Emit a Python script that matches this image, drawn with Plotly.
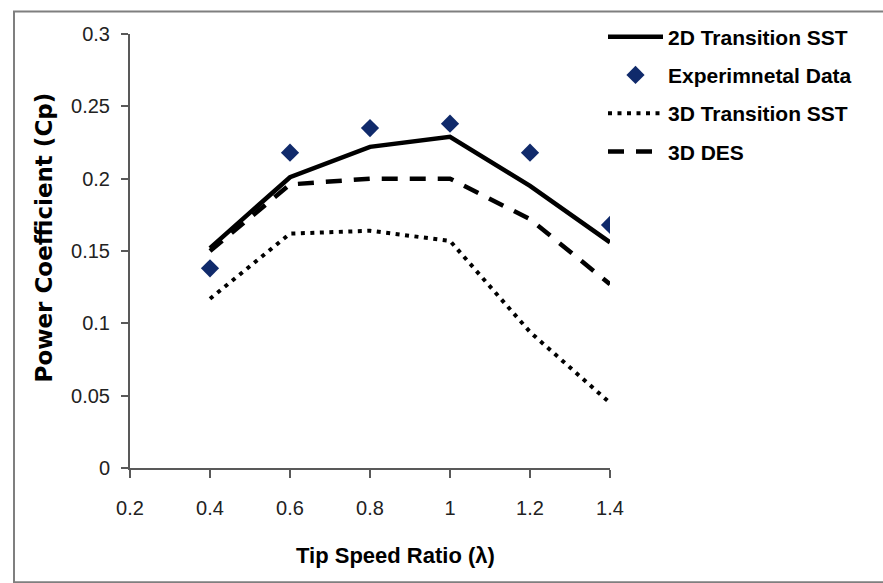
import plotly.graph_objects as go

tsr = [0.4, 0.6, 0.8, 1.0, 1.2, 1.4]
cp_2d_sst = [0.152, 0.201, 0.222, 0.229, 0.195, 0.156]
cp_exp = [0.138, 0.218, 0.235, 0.238, 0.218, 0.168]
cp_3d_sst = [0.117, 0.162, 0.164, 0.157, 0.094, 0.045]
cp_3d_des = [0.150, 0.196, 0.200, 0.200, 0.172, 0.127]

x_ticks = [0.2, 0.4, 0.6, 0.8, 1.0, 1.2, 1.4]
x_tick_labels = ["0.2", "0.4", "0.6", "0.8", "1", "1.2", "1.4"]
y_ticks = [0, 0.05, 0.1, 0.15, 0.2, 0.25, 0.3]
y_tick_labels = ["0", "0.05", "0.1", "0.15", "0.2", "0.25", "0.3"]

SANS = "Liberation Sans, Arial, sans-serif"

fig = go.Figure()
fig.add_trace(go.Scatter(x=tsr, y=cp_2d_sst, mode="lines", name="2D Transition SST",
                         line=dict(color="black", width=4.5), legendgroup="a"))
fig.add_trace(go.Scatter(x=tsr, y=cp_exp, mode="markers", name="Experimnetal Data",
                         marker=dict(symbol="diamond", size=14, color="#102A6B"), legendgroup="b"))
fig.add_trace(go.Scatter(x=tsr, y=cp_3d_sst, mode="lines", name="3D Transition SST",
                         line=dict(color="black", width=4, dash="4px,5.5px"), legendgroup="c"))
fig.add_trace(go.Scatter(x=tsr, y=cp_3d_des, mode="lines", name="3D DES",
                         line=dict(color="black", width=4.5, dash="16px,12px"), legendgroup="d"))

fig.update_layout(
    width=883, height=583,
    margin=dict(l=130, r=273, t=33.5, b=115.3, pad=0, autoexpand=False),
    paper_bgcolor="white", plot_bgcolor="white",
    showlegend=True,
    legend=dict(x=(603 - 130) / 480, y=(467.7 - 16) / 434.2, xanchor="left", yanchor="top",
                font=dict(family=SANS, size=21, color="black", weight="bold"),
                itemwidth=55,
                tracegroupgap=8, traceorder="grouped", bgcolor="rgba(0,0,0,0)"),
    xaxis=dict(range=[0.2, 1.4], tickvals=x_ticks, ticktext=x_tick_labels,
               showline=True, linecolor="#595959", linewidth=2, showgrid=False, zeroline=False,
               ticks="outside", ticklen=8, tickwidth=2, tickcolor="#595959",
               tickfont=dict(family=SANS, size=20, color="#222"), ticklabelstandoff=13),
    yaxis=dict(range=[0, 0.3], tickvals=y_ticks, ticktext=y_tick_labels,
               showline=True, linecolor="#595959", linewidth=2, showgrid=False, zeroline=False,
               ticks="outside", ticklen=7, tickwidth=2, tickcolor="#595959",
               tickfont=dict(family=SANS, size=20, color="#222"), ticklabelstandoff=7),
    annotations=[
        dict(text="<b>Tip Speed Ratio (λ)</b>", xref="paper", yref="paper",
             x=(395 - 130) / 480, y=(467.7 - 555) / 434.2, xanchor="center", yanchor="middle",
             showarrow=False, font=dict(family=SANS, size=22, color="black")),
        dict(text="<b>Power Coefficient (Cp)</b>", xref="paper", yref="paper",
             x=(44 - 130) / 480, y=(467.7 - 237) / 434.2, xanchor="center", yanchor="middle",
             textangle=-90, showarrow=False,
             font=dict(family="DejaVu Sans", size=23, color="black")),
    ],
    shapes=[
        dict(type="rect", xref="paper", yref="paper",
             x0=(14 - 130) / 480, x1=(900 - 130) / 480,
             y0=(467.7 - 582) / 434.2, y1=(467.7 - 11) / 434.2,
             line=dict(color="#7f7f7f", width=2), fillcolor="rgba(0,0,0,0)", layer="below"),
    ],
)

fig.write_html("out.html")
